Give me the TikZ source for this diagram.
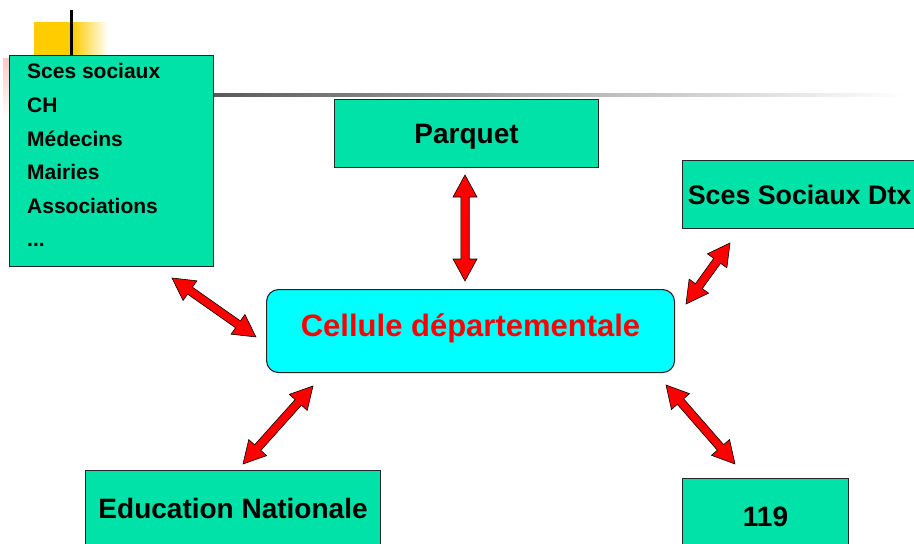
\documentclass[tikz,border=0pt]{standalone}
\usepackage{fontspec}
\setmainfont{Liberation Sans}
\usetikzlibrary{calc}
\definecolor{boxgreen}{RGB}{0,226,168}
\definecolor{slideyellow}{RGB}{255,204,0}
\definecolor{cellcyan}{RGB}{0,255,255}

% double-headed block arrow between two named coordinates
\newcommand{\dblarrow}[2]{%
  \filldraw[blockarrow] let \p1=($(#2)-(#1)$), \n1={atan2(\y1,\x1)}, \n2={veclen(\x1,\y1)} in
    [shift={(#1)}, rotate=\n1]
    (0pt,0pt) -- (22pt,12pt) -- (22pt,4.2pt) -- ({\n2-22pt},4.2pt) -- ({\n2-22pt},12pt)
    -- ({\n2},0pt) -- ({\n2-22pt},-12pt) -- ({\n2-22pt},-4.2pt) -- (22pt,-4.2pt) -- (22pt,-12pt) -- cycle;}

\begin{document}
\begin{tikzpicture}[x=1pt,y=-1pt,
  box/.style={draw=black!85, line width=1.1pt, fill=boxgreen, inner sep=0pt,
    font=\bfseries\fontsize{28}{30}\selectfont},
  cellbox/.style={draw=black!85, line width=1.1pt, fill=cellcyan, rounded corners=12pt,
    inner sep=0pt, text=red, font=\bfseries\fontsize{31}{34}\selectfont},
  listtext/.style={inner sep=0pt, align=left, font=\bfseries\fontsize{21}{33.6}\selectfont},
  blockarrow/.style={fill=red, draw=black, line width=0.6pt, line join=miter}]
\useasboundingbox (0,0) rectangle (914,544);

% slide decoration
\fill[slideyellow] (34,22) rectangle (73,55);
\shade[left color=slideyellow, right color=white] (73,22) rectangle (108,55);
\shade[top color=red!22, bottom color=white] (3,58) rectangle (9,120);
\draw[line width=3pt] (71,10) -- (71,56);
\shade[left color=black!65, right color=white, middle color=black!30] (213,93.5) rectangle (905,96.5);

% boxes
\node[box, minimum width=204pt, minimum height=211pt, anchor=north west] (partners) at (9,55) {};
\node[listtext, anchor=north west] (partnerlist) at ($(partners.north west)+(18,8.5)$)
  {Sces sociaux\\CH\\Médecins\\Mairies\\Associations\\...};
\node[box, minimum width=264pt, minimum height=68pt, anchor=north west, text height=25.5pt] (parquet) at (334,99) {Parquet};
\node[box, minimum width=234pt, minimum height=68pt, anchor=north west,
  font=\bfseries\fontsize{26.8}{30}\selectfont] (dtx) at (682,160) {Sces Sociaux Dtx};
\node[cellbox, minimum width=408pt, minimum height=83pt, anchor=north west, text depth=12pt] (cellule) at (266,289) {Cellule départementale};
\node[box, minimum width=295pt, minimum height=76pt, anchor=north west] (educ) at (85,470) {Education Nationale};
\node[box, minimum width=166pt, minimum height=76pt, anchor=north west] (n119) at (682,478) {119};

% arrow end points
\coordinate (a1s) at (172,278);  \coordinate (a1e) at (256,337);
\coordinate (a2s) at (465,175);  \coordinate (a2e) at (465,281);
\coordinate (a3s) at (730,243);  \coordinate (a3e) at (686,304);
\coordinate (a4s) at (666,385);  \coordinate (a4e) at (735,464);
\coordinate (a5s) at (313,386);  \coordinate (a5e) at (243,464);

\dblarrow{a1s}{a1e}
\dblarrow{a2s}{a2e}
\dblarrow{a3s}{a3e}
\dblarrow{a4s}{a4e}
\dblarrow{a5s}{a5e}
\end{tikzpicture}
\end{document}
